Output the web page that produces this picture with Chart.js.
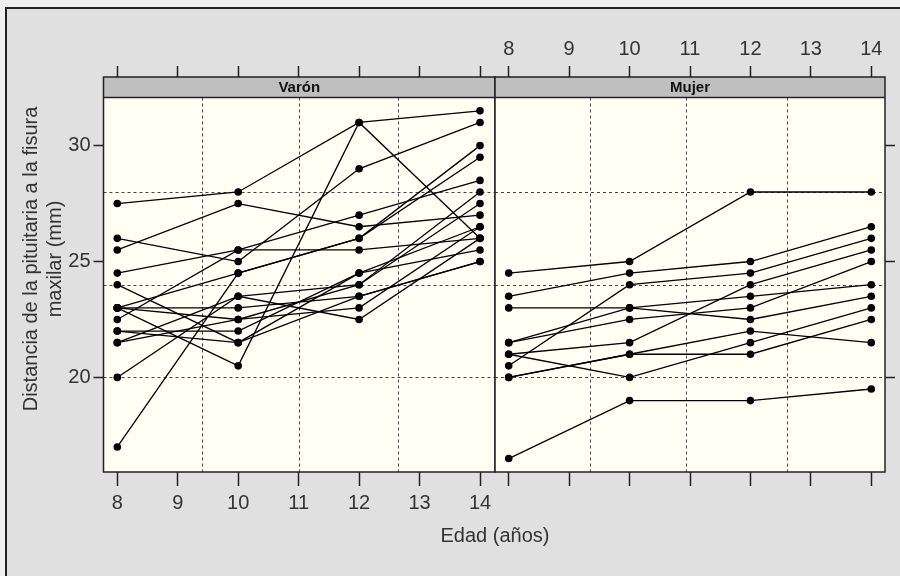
<!DOCTYPE html>
<html>
<head>
<meta charset="utf-8">
<script src="https://cdn.jsdelivr.net/npm/chart.js@4.4.1/dist/chart.umd.min.js"></script>
<style>
  html, body { margin: 0; padding: 0; }
  body { width: 900px; height: 576px; background: #efefef; position: relative; overflow: hidden;
         font-family: "Liberation Sans", Arial, sans-serif; color: #333; }
  #frame { position: absolute; left: 5px; top: 7px; width: 900px; height: 580px;
           border-left: 2px solid #222; border-top: 2px solid #222; background: #e0e0e0; }
  canvas { position: absolute; top: 0; }
  #cVaron { left: 0; }
  #cMujer { left: 494px; }
  .titulo { position: absolute; font-size: 20px; text-align: center; white-space: nowrap; }
  #ytitle { left: 42px; top: 259px; width: 420px; line-height: 24px;
            transform: translate(-50%, -50%) rotate(-90deg); }
  #xtitle { left: 495px; top: 535px; transform: translate(-50%, -50%); }
</style>
</head>
<body>
<div id="frame"></div>
<canvas id="cVaron" width="496" height="576"></canvas>
<canvas id="cMujer" width="406" height="576"></canvas>
<div class="titulo" id="ytitle">Distancia de la pituitaria a la fisura<br>maxilar (mm)</div>
<div class="titulo" id="xtitle">Edad (años)</div>
<script>
// edades de medicion
const edades = [8, 10, 12, 14];

// distancia (mm) por sujeto, varones
const distanciaVaron = [
    [26, 25, 29, 31],
    [21.5, 22.5, 23, 26.5],
    [23, 22.5, 24, 27.5],
    [25.5, 27.5, 26.5, 27],
    [20, 23.5, 22.5, 26],
    [24.5, 25.5, 27, 28.5],
    [22, 22, 24.5, 26.5],
    [24, 21.5, 24.5, 25.5],
    [23, 20.5, 31, 26],
    [27.5, 28, 31, 31.5],
    [23, 23, 23.5, 25],
    [21.5, 23.5, 24, 28],
    [17, 24.5, 26, 29.5],
    [22.5, 25.5, 25.5, 26],
    [23, 24.5, 26, 30],
    [22, 21.5, 23.5, 25]
];

// distancia (mm) por sujeto, mujeres
const distanciaMujer = [
    [21, 20, 21.5, 23],
    [21, 21.5, 24, 25.5],
    [20.5, 24, 24.5, 26],
    [23.5, 24.5, 25, 26.5],
    [21.5, 23, 22.5, 23.5],
    [20, 21, 21, 22.5],
    [21.5, 22.5, 23, 25],
    [23, 23, 23.5, 24],
    [20, 21, 22, 21.5],
    [16.5, 19, 19, 19.5],
    [24.5, 25, 28, 28]
];

const xTicks = [8, 9, 10, 11, 12, 13, 14];
const yTicks = [20, 25, 30];
const panelNames = ['Varón', 'Mujer'];

const TXT = '#333';
const LINE = '#222';
const FONT = { family: "'Liberation Sans', Arial, sans-serif", size: 20 };

function makeDatasets(rows) {
    return rows.map(function (vals) {
        return {
            data: vals.map(function (v, i) { return { x: edades[i], y: v }; }),
            borderColor: '#000',
            borderWidth: 1.3,
            pointRadius: 3.8,
            pointHoverRadius: 3.8,
            pointBackgroundColor: '#000',
            pointBorderWidth: 0,
            tension: 0,
            fill: false
        };
    });
}

// dibuja fondo, rejilla punteada, tira con el nombre del panel y marco
const panelPlugin = {
    id: 'panel',
    beforeDraw: function (chart) {
        const a = chart.chartArea, ctx = chart.ctx;
        ctx.save();
        ctx.fillStyle = '#fffff3';
        ctx.fillRect(a.left, a.top, a.right - a.left, a.bottom - a.top);
        ctx.restore();
    },
    beforeDatasetsDraw: function (chart) {
        const a = chart.chartArea, ctx = chart.ctx, o = chart.options.plugins.panel;
        const sx = chart.scales.x, sy = chart.scales.y;
        const stripBottom = a.top + 20.5;
        ctx.save();
        ctx.strokeStyle = '#444';
        ctx.lineWidth = 1;
        ctx.setLineDash([3, 3]);
        o.hgrid.forEach(function (v) {
            const y = Math.round(sy.getPixelForValue(v)) + 0.5;
            ctx.beginPath(); ctx.moveTo(a.left, y); ctx.lineTo(a.right, y); ctx.stroke();
        });
        o.vgrid.forEach(function (v) {
            const x = Math.round(sx.getPixelForValue(v)) + 0.5;
            ctx.beginPath(); ctx.moveTo(x, stripBottom); ctx.lineTo(x, a.bottom); ctx.stroke();
        });
        ctx.setLineDash([]);
        ctx.fillStyle = '#bfbfbf';
        ctx.fillRect(a.left, a.top, a.right - a.left, stripBottom - a.top);
        ctx.fillStyle = '#111';
        ctx.font = "bold 15px 'Liberation Sans Narrow', 'Arial Narrow', 'Liberation Sans', sans-serif";
        ctx.textAlign = 'center';
        ctx.textBaseline = 'middle';
        ctx.fillText(o.label, (a.left + a.right) / 2, (a.top + stripBottom) / 2 + 1);
        ctx.restore();
    },
    afterDatasetsDraw: function (chart) {
        const a = chart.chartArea, ctx = chart.ctx;
        const stripBottom = a.top + 20.5;
        ctx.save();
        ctx.strokeStyle = LINE;
        ctx.lineWidth = 1.5;
        ctx.strokeRect(a.left, a.top, a.right - a.left, a.bottom - a.top);
        ctx.beginPath(); ctx.moveTo(a.left, stripBottom); ctx.lineTo(a.right, stripBottom); ctx.stroke();
        ctx.restore();
    }
};

function setTicks(list) {
    return function (scale) { scale.ticks = list.map(function (v) { return { value: v }; }); };
}
function fixH(h) { return function (s) { s.height = h; s.paddingLeft = 0; s.paddingRight = 0; }; }
function fixW(w) { return function (s) { s.width = w; s.paddingTop = 0; s.paddingBottom = 0; }; }

function axisX(pos, showLabels, tickLen, size, xmin, xmax) {
    return {
        type: 'linear', position: pos, min: xmin, max: xmax,
        afterBuildTicks: setTicks(xTicks),
        afterFit: fixH(size),
        border: { display: false },
        grid: { drawOnChartArea: false, drawTicks: true, tickLength: tickLen, tickColor: LINE, tickWidth: 1.5 },
        ticks: { display: showLabels, color: TXT, font: FONT, padding: 5, maxRotation: 0, autoSkip: false }
    };
}
function axisY(pos, showLabels, size) {
    return {
        type: 'linear', position: pos, min: 15.92, max: 32.96,
        afterBuildTicks: setTicks(yTicks),
        afterFit: fixW(size),
        border: { display: false },
        grid: { drawOnChartArea: false, drawTicks: true, tickLength: 10, tickColor: LINE, tickWidth: 1.5 },
        ticks: { display: showLabels, color: TXT, font: FONT, padding: 3 }
    };
}

function makeChart(id, rows, label, xmin, xmax, vgrid, isLeft) {
    return new Chart(document.getElementById(id), {
        type: 'line',
        data: { datasets: makeDatasets(rows) },
        options: {
            responsive: false,
            animation: false,
            events: [],
            layout: {
                autoPadding: false,
                padding: isLeft ? { left: 0, right: 1, top: 0, bottom: 0 } : { left: 1, right: 0, top: 0, bottom: 0 }
            },
            scales: {
                x: axisX('bottom', isLeft, 14, 104, xmin, xmax),
                x2: axisX('top', !isLeft, 11, 77, xmin, xmax),
                y: axisY(isLeft ? 'left' : 'right', isLeft, isLeft ? 103.5 : 15)
            },
            plugins: {
                legend: { display: false },
                tooltip: { enabled: false },
                panel: { label: label, hgrid: [20, 24, 28], vgrid: vgrid }
            }
        },
        plugins: [panelPlugin]
    });
}

makeChart('cVaron', distanciaVaron, panelNames[0], 7.772, 14.248, [9.4, 11, 12.64], true);
makeChart('cMujer', distanciaMujer, panelNames[1], 7.773, 14.227, [9.34, 10.93, 12.6], false);
</script>
</body>
</html>
